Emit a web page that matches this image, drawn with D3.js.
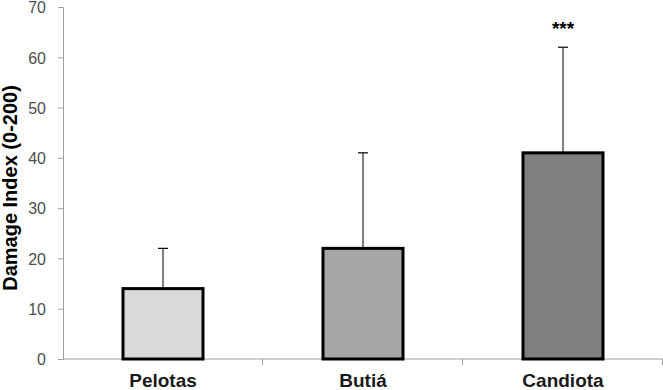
<!DOCTYPE html>
<html>
<head>
<meta charset="utf-8">
<script src="https://cdn.jsdelivr.net/npm/d3@7"></script>
<style>
  html, body { margin: 0; padding: 0; background: #fff; }
  svg { display: block; }
</style>
</head>
<body>
<svg id="chart" width="663" height="390"></svg>
<script>
const categories = ["Pelotas", "Butiá", "Candiota"];
const means = [14, 22, 41];
const errorTops = [22, 41, 62];
const significance = ["", "", "***"];
const fills = ["#d9d9d9", "#a6a6a6", "#7f7f7f"];
const yTicks = [0, 10, 20, 30, 40, 50, 60, 70];
const yTitle = "Damage Index (0-200)";

const svg = d3.select("#chart");
const x = d3.scaleBand().domain(categories).range([63, 663]).paddingInner(0.6).paddingOuter(0.3);
const y = d3.scaleLinear().domain([0, 70]).range([359, 7]);

// Y axis
const yAxis = svg.append("g").attr("transform", "translate(63,0)")
  .call(d3.axisLeft(y).tickValues(yTicks).tickSize(5).tickPadding(12).tickFormat(d3.format("d")));
yAxis.select(".domain").attr("stroke", "#a0a0a0").attr("stroke-width", 1);
yAxis.selectAll(".tick line").attr("stroke", "#a0a0a0");
yAxis.selectAll(".tick text").attr("fill", "#4d4d4d").attr("dy", "0.36em")
  .style("font-family", "'Liberation Sans', Arial, sans-serif").style("font-size", "16px");

// X axis line with boundary ticks
const xAxisG = svg.append("g");
xAxisG.append("line").attr("x1", 63).attr("x2", 663).attr("y1", y(0)).attr("y2", y(0))
  .attr("stroke", "#a0a0a0").attr("stroke-width", 1);
const step = x.step();
const boundaries = categories.map((c, i) => x(c) - (step - x.bandwidth()) / 2).concat([x(categories[categories.length - 1]) + x.bandwidth() + (step - x.bandwidth()) / 2]);
xAxisG.selectAll("line.bt").data(boundaries.slice(1)).join("line").attr("class", "bt")
  .attr("x1", d => Math.round(d) - 0.5).attr("x2", d => Math.round(d) - 0.5)
  .attr("y1", y(0)).attr("y2", y(0) + 6).attr("stroke", "#a0a0a0");

xAxisG.selectAll("text.cat").data(categories).join("text").attr("class", "cat")
  .attr("x", d => x(d) + x.bandwidth() / 2).attr("y", 387)
  .attr("text-anchor", "middle")
  .style("font-family", "'Liberation Sans', Arial, sans-serif").style("font-size", "19px").style("font-weight", "bold")
  .attr("fill", "#1a1a1a").text(d => d);

// Error bars
const eb = svg.append("g");
categories.forEach((c, i) => {
  const cx = x(c) + x.bandwidth() / 2;
  eb.append("line").attr("x1", cx).attr("x2", cx).attr("y1", y(means[i])).attr("y2", y(errorTops[i]))
    .attr("stroke", "#000").attr("stroke-width", 1);
  eb.append("line").attr("x1", cx - 5).attr("x2", cx + 5).attr("y1", y(errorTops[i])).attr("y2", y(errorTops[i]))
    .attr("stroke", "#000").attr("stroke-width", 1.2);
});

// Bars
svg.append("g").selectAll("rect").data(categories).join("rect")
  .attr("x", d => x(d)).attr("width", x.bandwidth())
  .attr("y", (d, i) => y(means[i])).attr("height", (d, i) => y(0) - y(means[i]))
  .attr("fill", (d, i) => fills[i]).attr("stroke", "#000").attr("stroke-width", 3);

// Significance
svg.append("g").selectAll("text").data(categories).join("text")
  .attr("x", d => x(d) + x.bandwidth() / 2).attr("y", (d, i) => y(errorTops[i]) - 12)
  .attr("text-anchor", "middle")
  .style("font-family", "'Liberation Sans', Arial, sans-serif").style("font-size", "19px").style("font-weight", "bold")
  .attr("fill", "#000").text((d, i) => significance[i]);

// Y title
svg.append("text").attr("transform", "translate(17,188) rotate(-90)")
  .attr("text-anchor", "middle")
  .style("font-family", "'Liberation Sans', Arial, sans-serif").style("font-size", "20px").style("font-weight", "bold")
  .attr("fill", "#000").text(yTitle);
</script>
</body>
</html>
